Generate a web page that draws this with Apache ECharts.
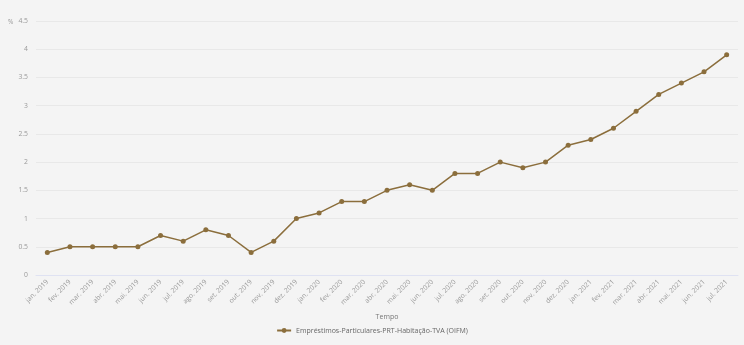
<!DOCTYPE html>
<html>
<head>
<meta charset="utf-8">
<script src="https://cdn.jsdelivr.net/npm/echarts@6/dist/echarts.min.js"></script>
<style>
html,body{margin:0;padding:0;background:#f4f4f4;}
#chart{width:744px;height:345px;}
</style>
</head>
<body>
<div id="chart"></div>
<script>
// Monthly periods, Jan 2019 – Jul 2021
const categories = [
  'jan. 2019','fev. 2019','mar. 2019','abr. 2019','mai. 2019','jun. 2019','jul. 2019','ago. 2019','set. 2019','out. 2019','nov. 2019','dez. 2019',
  'jan. 2020','fev. 2020','mar. 2020','abr. 2020','mai. 2020','jun. 2020','jul. 2020','ago. 2020','set. 2020','out. 2020','nov. 2020','dez. 2020',
  'jan. 2021','fev. 2021','mar. 2021','abr. 2021','mai. 2021','jun. 2021','jul. 2021'
];
// Annual growth rate (%)
const tva = [
  0.4,0.5,0.5,0.5,0.5,0.7,0.6,0.8,0.7,0.4,0.6,1.0,
  1.1,1.3,1.3,1.5,1.6,1.5,1.8,1.8,2.0,1.9,2.0,2.3,
  2.4,2.6,2.9,3.2,3.4,3.6,3.9
];
const seriesName = 'Empréstimos-Particulares-PRT-Habitação-TVA (OIFM)';
const yUnit = '%';
const yTicks = { min: 0, max: 4.5, interval: 0.5 };

const chart = echarts.init(document.getElementById('chart'), null, {renderer:'canvas'});
chart.setOption({
  backgroundColor: '#f4f4f4',
  textStyle: { fontFamily: 'Open Sans, sans-serif' },
  grid: { left: 36, right: 6, top: 21, bottom: 70 },
  graphic: [{
    type: 'text',
    left: 8,
    top: 19,
    style: { text: yUnit, fontSize: 6.5, fill: '#999', fontFamily: 'Open Sans, sans-serif' }
  }],
  legend: {
    bottom: 6,
    left: 'center',
    itemWidth: 14, itemHeight: 6,
    textStyle: { fontSize: 7, color: '#666' },
    data: [seriesName]
  },
  xAxis: {
    type: 'category',
    data: categories,
    boundaryGap: true,
    name: 'Tempo',
    nameLocation: 'middle',
    nameGap: 36,
    nameTextStyle: { fontSize: 7, color: '#777' },
    axisLine: { lineStyle: { color: '#dfe2f2' } },
    axisTick: { show: false },
    axisLabel: { rotate: 45, fontSize: 6.8, color: '#999', interval: 0, margin: 6 }
  },
  yAxis: {
    type: 'value',
    min: yTicks.min, max: yTicks.max, interval: yTicks.interval,
    axisLine: { show: false },
    axisTick: { show: false },
    axisLabel: { fontSize: 6.8, color: '#999', margin: 8 },
    splitLine: { lineStyle: { color: '#e8e8e8', width: 1 } }
  },
  series: [{
    name: seriesName,
    type: 'line',
    data: tva,
    symbol: 'circle',
    symbolSize: 5,
    color: '#8b6e3c',
    lineStyle: { width: 1.5, color: '#8b6e3c' },
    itemStyle: { color: '#8b6e3c' },
    animation: false
  }]
});
</script>
</body>
</html>
